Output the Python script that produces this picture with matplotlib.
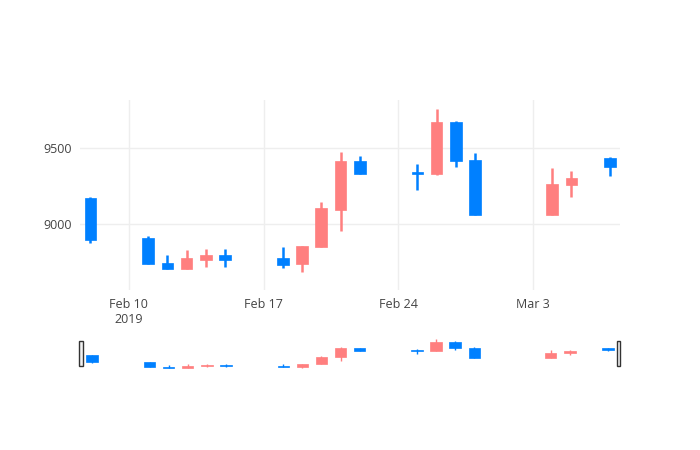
import matplotlib
matplotlib.use("Agg")
import matplotlib.pyplot as plt
import matplotlib.dates as mdates
import numpy as np
from datetime import date
from matplotlib.patches import Rectangle

dates = ["2019-02-08", "2019-02-11", "2019-02-12", "2019-02-13", "2019-02-14", "2019-02-15",
         "2019-02-18", "2019-02-19", "2019-02-20", "2019-02-21", "2019-02-22",
         "2019-02-25", "2019-02-26", "2019-02-27", "2019-02-28",
         "2019-03-04", "2019-03-05", "2019-03-07"]
opens = [9170, 8908, 8743, 8704, 8763, 8796, 8776, 8737, 8849, 9092, 9414,
         9342, 9329, 9671, 9421, 9059, 9257, 9434]
closes = [8895, 8737, 8704, 8776, 8796, 8763, 8730, 8855, 9105, 9414, 9329,
          9329, 9671, 9414, 9059, 9263, 9303, 9375]
highs = [9175, 8921, 8796, 8829, 8836, 8836, 8849, 8855, 9145, 9474, 9447,
         9395, 9757, 9675, 9467, 9368, 9349, 9438]
lows = [8875, 8737, 8704, 8704, 8717, 8717, 8710, 8684, 8849, 8954, 9329,
        9224, 9322, 9375, 9059, 9059, 9178, 9316]

UP = "#ff7f7f"
DOWN = "#0080ff"

plt.rcParams['font.family'] = ['Open Sans', 'DejaVu Sans']
x = mdates.date2num(np.array(dates, dtype="datetime64[D]"))

fig = plt.figure(figsize=(7, 4.5), dpi=100)
ax = fig.add_axes([0.114, 0.356, 0.771, 0.422])
rs = fig.add_axes([0.114, 0.18, 0.771, 0.068])

xmin = mdates.date2num(date(2019, 2, 7)) + 0.45
xmax = mdates.date2num(date(2019, 3, 7)) + 0.5


def draw(a, lw_wick, width):
    for xi, o, c, h, l in zip(x, opens, closes, highs, lows):
        col = UP if c > o else DOWN
        a.vlines(xi, l, h, color=col, lw=lw_wick, zorder=2)
        a.add_patch(Rectangle((xi - width / 2, min(o, c)), width, max(abs(c - o), 3),
                              facecolor=col, edgecolor=col, lw=0.5, zorder=3))


draw(ax, 1.8, 0.6)
ax.set_xlim(xmin, xmax)
ax.set_ylim(8566, 9816)
ax.set_yticks([9000, 9500])
ticks = [mdates.date2num(date(2019, 2, 10)), mdates.date2num(date(2019, 2, 17)),
         mdates.date2num(date(2019, 2, 24)), mdates.date2num(date(2019, 3, 3))]
ax.set_xticks(ticks)
ax.set_xticklabels(["Feb 10\n2019", "Feb 17", "Feb 24", "Mar 3"])
ax.grid(True, color="#eeeeee", lw=1)
ax.set_axisbelow(True)
for s in ax.spines.values():
    s.set_visible(False)
ax.tick_params(length=0, colors="#444444", labelsize=9, pad=6)

draw(rs, 1.0, 0.6)
rs.set_xlim(xmin - 0.1, xmax + 0.1)
rs.set_ylim(min(lows) - 30, max(highs) + 30)
rs.axis("off")
for hx in [xmin - 0.05, xmax + 0.05]:
    rs.add_patch(Rectangle((hx - 0.1, 8780), 0.2, 900, facecolor="#f2f2f2",
                           edgecolor="#333333", lw=1, zorder=5, clip_on=False))

fig.savefig("out.png", dpi=100)
